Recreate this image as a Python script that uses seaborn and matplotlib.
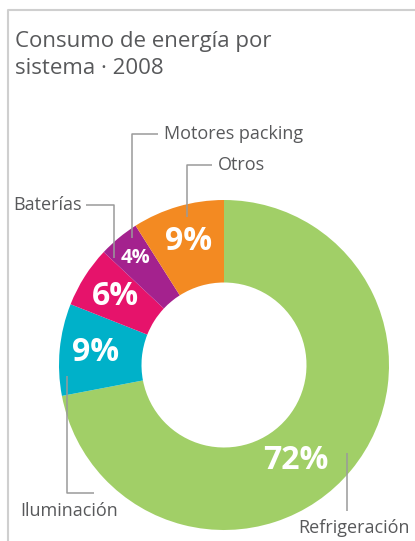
import matplotlib
matplotlib.use("Agg")
import matplotlib.pyplot as plt
import seaborn as sns
import numpy as np

# -----------------------------
# Data
# -----------------------------
sistemas = ["Refrigeración", "Iluminación", "Baterías", "Motores packing", "Otros"]
consumo = [72, 9, 6, 4, 9]
colores = ["#a1cf67", "#00b1c9", "#e6136b", "#a4228e", "#f38a22"]
titulo = "Consumo de energía por\nsistema · 2008"

W, H = 415, 541


def py(y):
    # pixel row -> data y (y axis points up)
    return H - y


sns.set_theme(style="white")
plt.rcParams["font.family"] = ["Open Sans", "DejaVu Sans"]

fig = plt.figure(figsize=(W / 100, H / 100), dpi=100)
ax = fig.add_axes([0, 0, 1, 1])

cx, cy, R = 224, 365, 165
wedges, _ = ax.pie(consumo, colors=colores, startangle=90, counterclock=False,
                   center=(cx, py(cy)), radius=R,
                   wedgeprops=dict(width=R * 0.5, linewidth=0))

ax.set_xlim(0, W)
ax.set_ylim(0, H)
ax.set_aspect("equal")
ax.axis("off")

# percentage labels
for i, (w, v) in enumerate(zip(wedges, consumo)):
    ang = (w.theta1 + w.theta2) / 2
    r = 0.78 * R
    size = 23
    if i == 0:
        ang, r = -53, 120
    if v == 4:
        r, size = 0.84 * R, 14.5
    x = cx + r * np.cos(np.radians(ang))
    y = py(cy) + r * np.sin(np.radians(ang))
    ax.text(x, y, f"{v}%", color="white", fontsize=size, fontweight="bold",
            ha="center", va="center")

# callouts
gris = "#9a9a9a"
txt = "#58595b"
callouts = [
    ([132, 132, 158], [238, 134, 134], 164, 134, "left"),
    ([187, 187, 212], [217, 165, 165], 218, 165, "left"),
    ([114, 114, 86], [258, 205, 205], 82, 205, "right"),
    ([67, 67, 94], [376, 493, 493], 118, 511, "right"),
    ([347, 347], [453, 511], 410, 528, "right"),
]
nombres = ["Motores packing", "Otros", "Baterías", "Iluminación", "Refrigeración"]
for (xs, ys, tx, ty, ha), nombre in zip(callouts, nombres):
    ax.plot(xs, [py(v) for v in ys], color=gris, lw=1.1, solid_capstyle="butt")
    ax.text(tx, py(ty), nombre, color=txt, fontsize=13, ha=ha, va="center")

# title and frame
ax.text(15, py(55), titulo, color=txt, fontsize=16, ha="left", va="center",
        linespacing=1.38)
ax.plot([8, 8, W], [0, py(10), py(10)], color="#cfcfcf", lw=1.5)

fig.savefig("out.png", dpi=100)
